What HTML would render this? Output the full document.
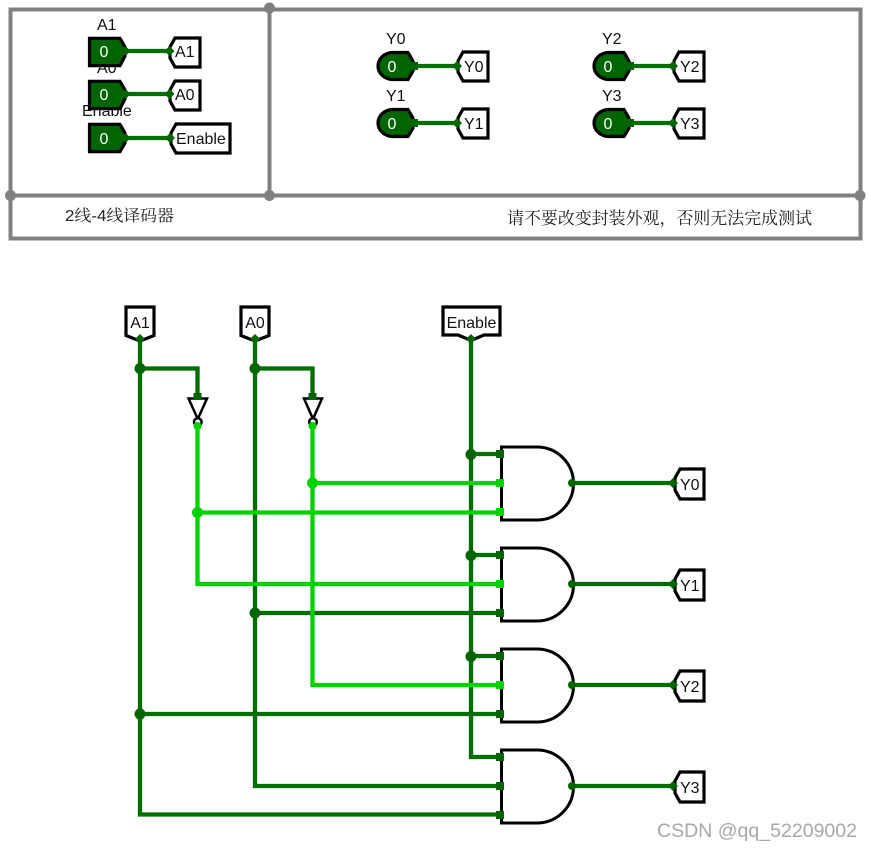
<!DOCTYPE html>
<html>
<head>
<meta charset="utf-8">
<style>
html,body{margin:0;padding:0;background:#fff;width:871px;height:850px;overflow:hidden}
svg{display:block}
text{font-family:"Liberation Sans",sans-serif;font-size:16px;fill:#111}
.cn{font-family:"Liberation Sans","Noto Serif CJK SC",serif;fill:#222}
.frame{fill:none;stroke:#808080;stroke-width:4}
.pin{fill:#006400;stroke:#000;stroke-width:3.200;stroke-linejoin:miter}
.tun{fill:#fff;stroke:#000;stroke-width:3.200;stroke-linejoin:miter}
.d{fill:none;stroke:#006f00;stroke-width:4.300}
.b{fill:none;stroke:#00d200;stroke-width:4.300}
.v{fill:#fff;text-anchor:middle}
.m{text-anchor:middle}
.gate{fill:#fff;stroke:#000;stroke-width:3}
</style>
</head>
<body>
<svg width="871" height="850" viewBox="0 0 871 850" xmlns="http://www.w3.org/2000/svg">
<!-- frame -->
<rect class="frame" x="10.500" y="9.500" width="850" height="229"/>
<path class="frame" d="M10 195.500H860M269.500 8V195"/>
<g fill="#808080"><circle cx="269.500" cy="8" r="5.500"/><circle cx="10.500" cy="195.500" r="5.500"/><circle cx="269.500" cy="195.500" r="5.500"/><circle cx="860" cy="195.500" r="5.500"/></g>

<!-- top labels -->
<text x="97" y="30">A1</text>
<text x="97" y="73">A0</text>
<text x="82" y="116">Enable</text>
<text x="386" y="44">Y0</text>
<text x="386" y="101">Y1</text>
<text x="602" y="44">Y2</text>
<text x="602" y="101">Y3</text>

<!-- input pins top -->
<g class="pin">
<path d="M89.500 38.300H120L125 47V56L120 65.700H89.500Z"/>
<path d="M89.500 81.300H120L125 90V99L120 108.700H89.500Z"/>
<path d="M89.500 124.300H120L125 133V143L120 151.700H89.500Z"/>
</g>
<path class="d" d="M124 51H170M124 94H170M124 138H170"/>
<g fill="#006400">
<circle cx="125" cy="51" r="4"/><circle cx="125" cy="94" r="4"/><circle cx="125" cy="138" r="4"/>
</g>
<g class="tun">
<path d="M175 38H200V67H175L170 58V47Z"/>
<path d="M175 81H200V110H175L170 101V90Z"/>
<path d="M176 124H230V153H176L171 144V133Z"/>
</g>
<g fill="#006400">
<path d="M164.500 51l5-5 5 5-5 5Z"/><path d="M164.500 94l5-5 5 5-5 5Z"/><path d="M165 138l5-5 5 5-5 5Z"/>
</g>
<text class="v" x="104" y="57">0</text><text class="v" x="104" y="100">0</text><text class="v" x="104" y="144">0</text>
<text x="175" y="57">A1</text><text x="175" y="100">A0</text><text x="176" y="144">Enable</text>

<!-- output pins top -->
<g class="pin">
<path d="M393 52.500H408L413 61V71L408 79.500H393A15 13.500 0 0 1 393 52.500Z"/>
<path d="M393 109.500H408L413 118V128L408 136.500H393A15 13.500 0 0 1 393 109.500Z"/>
<path d="M609 52.500H624L629 61V71L624 79.500H609A15 13.500 0 0 1 609 52.500Z"/>
<path d="M609 109.500H624L629 118V128L624 136.500H609A15 13.500 0 0 1 609 109.500Z"/>
</g>
<path class="d" d="M412 66H458M412 123H458M628 66H674M628 123H674"/>
<g fill="#006400">
<rect x="411" y="62" width="7" height="8"/><rect x="411" y="119" width="7" height="8"/>
<rect x="627" y="62" width="7" height="8"/><rect x="627" y="119" width="7" height="8"/>
</g>
<g class="tun">
<path d="M463 52H488V81H463L458 72V61Z"/>
<path d="M463 109H488V138H463L458 129V118Z"/>
<path d="M679 52H704V81H679L674 72V61Z"/>
<path d="M679 109H704V138H679L674 129V118Z"/>
</g>
<g fill="#006400">
<path d="M452 66l5-5 5 5-5 5Z"/><path d="M452 123l5-5 5 5-5 5Z"/>
<path d="M668 66l5-5 5 5-5 5Z"/><path d="M668 123l5-5 5 5-5 5Z"/>
</g>
<text class="v" x="392" y="72">0</text><text class="v" x="392" y="129">0</text>
<text class="v" x="608" y="72">0</text><text class="v" x="608" y="129">0</text>
<text x="464" y="72">Y0</text><text x="464" y="129">Y1</text>
<text x="680" y="72">Y2</text><text x="680" y="129">Y3</text>

<!-- captions -->
<text class="cn" x="65" y="221" textLength="109" lengthAdjust="spacingAndGlyphs" style="font-size:16px">2线-4线译码器</text>
<text class="cn" x="507" y="224" textLength="305" lengthAdjust="spacingAndGlyphs" style="font-size:17px">请不要改变封装外观，否则无法完成测试</text>

<!-- gates -->
<g class="gate">
<path d="M501.500 447H537A36.500 36.500 0 0 1 537 520H501.500Z"/>
<path d="M501.500 548H537A36.500 36.500 0 0 1 537 621H501.500Z"/>
<path d="M501.500 649H537A36.500 36.500 0 0 1 537 722H501.500Z"/>
<path d="M501.500 750H537A36.500 36.500 0 0 1 537 823H501.500Z"/>
</g>

<!-- dark wires -->
<g class="d">
<path d="M140 340V814.500H500"/>
<path d="M140 368.500H197.500V398"/>
<path d="M255 340V786H500"/>
<path d="M255 368.500H312.500V398"/>
<path d="M471 340V757H500"/>
<path d="M471 454H500M471 555H500M471 656H500"/>
<path d="M255 613H500M140 714H500"/>
<path d="M572 483H672M572 584H672M572 685H672M572 786H672"/>
</g>
<!-- bright wires -->
<g class="b">
<path d="M197.500 426V584H500"/>
<path d="M197.500 512.500H500"/>
<path d="M312.500 426V685H500"/>
<path d="M312.500 483H500"/>
</g>

<!-- inverters -->
<g fill="none" stroke="#000" stroke-width="2.500">
<path d="M188.500 398.500H207L197.800 419Z"/>
<circle cx="197.800" cy="422" r="3.800" fill="#fff"/>
<path d="M304 398.500H322L313 419Z"/>
<circle cx="313" cy="422" r="3.800" fill="#fff"/>
</g>
<g fill="#006400"><rect x="193.500" y="393" width="8" height="7"/><rect x="308.500" y="393" width="8" height="7"/></g>
<g fill="#00d200"><circle cx="197.500" cy="426" r="4"/><circle cx="312.500" cy="426" r="4"/>
<circle cx="197.500" cy="512.500" r="5.500"/><circle cx="312.500" cy="483" r="5.500"/></g>

<!-- junctions -->
<g fill="#006400">
<circle cx="140" cy="368.500" r="5.500"/><circle cx="255" cy="368.500" r="5.500"/>
<circle cx="471" cy="454.500" r="5.500"/><circle cx="471" cy="555.500" r="5.500"/><circle cx="471" cy="656.500" r="5.500"/>
<circle cx="255" cy="613" r="5.500"/><circle cx="140" cy="714" r="5.500"/>
<circle cx="572" cy="483" r="4"/><circle cx="572" cy="584" r="4"/><circle cx="572" cy="685" r="4"/><circle cx="572" cy="786" r="4"/>
<rect x="496" y="450" width="8" height="8"/>
<rect x="496" y="551" width="8" height="8"/><rect x="496" y="609" width="8" height="8"/>
<rect x="496" y="652" width="8" height="8"/><rect x="496" y="710" width="8" height="8"/>
<rect x="496" y="753" width="8" height="8"/><rect x="496" y="782" width="8" height="8"/><rect x="496" y="811" width="8" height="8"/>
</g>
<g fill="#00d200">
<rect x="496" y="479" width="8" height="8"/><rect x="496" y="508" width="8" height="8"/>
<rect x="496" y="580" width="8" height="8"/><rect x="496" y="681" width="8" height="8"/>
</g>

<!-- top tunnels in circuit -->
<g class="tun">
<path d="M126 307H154V335.500L140 341L126 335.500Z"/>
<path d="M241 307H269V335.500L255 341L241 335.500Z"/>
<path d="M443 307H500V335H484L471 340.500L458 335H443Z"/>
</g>
<g fill="#006400">
<path d="M140 334l5 5-5 5-5-5Z"/><path d="M255 334l5 5-5 5-5-5Z"/><path d="M471 334l5 5-5 5-5-5Z"/>
</g>
<text class="m" x="140" y="328">A1</text>
<text class="m" x="255" y="328">A0</text>
<text class="m" x="471.500" y="328">Enable</text>

<!-- right tunnels -->
<g class="tun">
<path d="M680 469H704V499H680L675 490V478Z"/>
<path d="M680 570H704V600H680L675 591V579Z"/>
<path d="M680 671H704V701H680L675 692V680Z"/>
<path d="M680 772H704V802H680L675 793V781Z"/>
</g>
<g fill="#006400">
<path d="M668 483l5-5 5 5-5 5Z"/><path d="M668 584l5-5 5 5-5 5Z"/><path d="M668 685l5-5 5 5-5 5Z"/><path d="M668 786l5-5 5 5-5 5Z"/>
</g>
<text x="680" y="490">Y0</text><text x="680" y="591">Y1</text><text x="680" y="692">Y2</text><text x="680" y="793">Y3</text>

<!-- watermark -->
<text x="657" y="837" textLength="200" lengthAdjust="spacingAndGlyphs" style="font-size:19px;fill:#a8a8a8">CSDN @qq_52209002</text>
</svg>
</body>
</html>
